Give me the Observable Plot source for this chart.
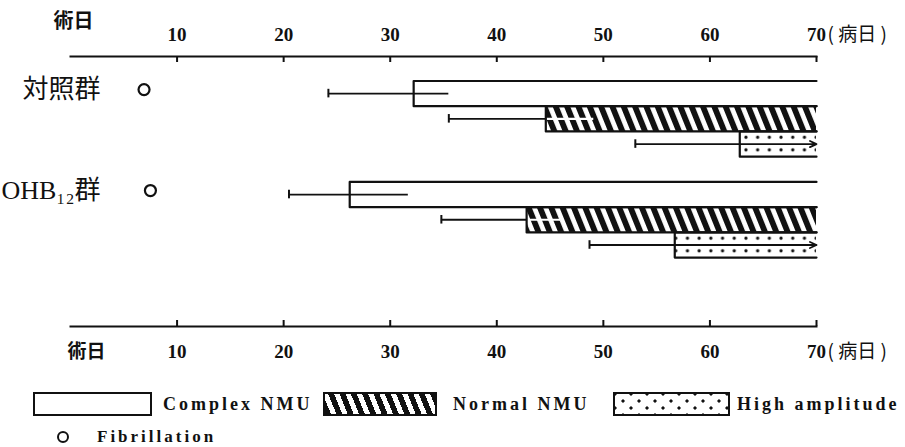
<!DOCTYPE html>
<html><head><meta charset="utf-8">
<script src="https://cdn.jsdelivr.net/npm/d3@7"></script>
<script src="https://cdn.jsdelivr.net/npm/@observablehq/plot@0.6"></script>
<style>
body{margin:0;background:#fff;}
#wrap{position:relative;width:905px;height:447px;overflow:hidden;}
#legend{position:absolute;left:0;top:372px;width:905px;height:75px;font-family:"Liberation Serif",serif;font-weight:bold;font-size:18px;letter-spacing:3px;color:#111;}
.box{position:absolute;top:20px;height:24px;border:2px solid #111;box-sizing:border-box;background:#fff;}
.lbl{position:absolute;top:20px;line-height:24px;white-space:nowrap;}
.circ{position:absolute;width:12px;height:12px;border:2px solid #111;border-radius:50%;box-sizing:border-box;}
</style></head><body>
<div id="wrap"><div id="chart"></div><div id="legend"></div></div>
<script>
// ---- data ----
const groups = ["対照群", "OHB₁₂群"];
const categories = ["Complex NMU", "Normal NMU", "High amplitude"];
const meanDay = [[32.2, 44.6, 62.8], [26.2, 42.8, 56.7]];
const lowDay  = [[24.2, 35.5, 53.0], [20.5, 34.8, 48.7]];
const highDay = [[35.5, 49.1, 70], [31.7, 46.0, 70]];
const fibrillationDay = [6.9, 7.5];
const dayTicks = [10, 20, 30, 40, 50, 60, 70];
const dayDomain = [0, 70];
const observationEnd = 70;
const startLabel = "術日";
const endUnit = "( 病日 )";
const fibrillationLabel = "Fibrillation";

// ---- layout ----
const W = 905, H = 372, MT = 56, MB = 46, ML = 70, MR = 89;
const frameH = H - MT - MB;
const ink = "#111";
const serif = "'Liberation Serif', 'DejaVu Serif', serif";
const cjk = "'Noto Sans CJK JP', sans-serif";

const rowsPerGroup = categories.length + 1;
const bars = groups.flatMap((g, gi) => categories.map((c, ci) => ({
  group: g, category: c, row: gi * rowsPerGroup + ci,
  mean: meanDay[gi][ci], low: lowDay[gi][ci], high: highDay[gi][ci], end: observationEnd
})));
const outline = bars.flatMap(b => [
  {id: b.row, x: b.end, y: b.row - 0.5},
  {id: b.row, x: b.mean, y: b.row - 0.5},
  {id: b.row, x: b.mean, y: b.row + 0.5},
  {id: b.row, x: b.end, y: b.row + 0.5}
]);
const fillFor = {"Complex NMU": "white", "Normal NMU": "url(#hatch)", "High amplitude": "url(#dots)"};
const fib = groups.map((g, gi) => ({group: g, row: gi * rowsPerGroup, day: fibrillationDay[gi]}));

const chart = Plot.plot({
  width: W, height: H,
  marginLeft: ML, marginRight: MR, marginTop: MT, marginBottom: MB,
  x: {domain: dayDomain, axis: null},
  y: {domain: [-1.47, 9.23], reverse: true, axis: null},
  style: {fontFamily: serif, color: ink, background: "white", overflow: "visible"},
  marks: [
    // axis lines
    Plot.frame({anchor: "top", stroke: ink, strokeWidth: 2}),
    Plot.frame({anchor: "bottom", stroke: ink, strokeWidth: 2}),
    // ticks: top points down, bottom points up
    Plot.tickX(dayTicks, {x: d => d, stroke: ink, strokeWidth: 2, insetBottom: frameH - 6}),
    Plot.tickX(dayTicks, {x: d => d, stroke: ink, strokeWidth: 2, insetTop: frameH - 6}),
    // tick labels
    Plot.text(dayTicks, {x: d => d, frameAnchor: "top", lineAnchor: "middle", dy: -22, text: d => String(d), fontSize: 19, fontWeight: "bold", fill: ink}),
    Plot.text(dayTicks, {x: d => d, frameAnchor: "bottom", lineAnchor: "middle", dy: 25, text: d => String(d), fontSize: 19, fontWeight: "bold", fill: ink}),
    Plot.text([endUnit], {frameAnchor: "top-right", lineAnchor: "middle", dx: 11, dy: -22, textAnchor: "start", text: d => d, fontSize: 19, fontFamily: cjk, fill: ink}),
    Plot.text([endUnit], {frameAnchor: "bottom-right", lineAnchor: "middle", dx: 11, dy: 25, textAnchor: "start", text: d => d, fontSize: 19, fontFamily: cjk, fill: ink}),
    Plot.text([startLabel], {frameAnchor: "top-left", lineAnchor: "middle", textAnchor: "start", dx: -17, dy: -35, text: d => d, fontSize: 20, fontWeight: "bold", fontFamily: cjk, fill: ink}),
    Plot.text([startLabel], {frameAnchor: "bottom-left", lineAnchor: "middle", textAnchor: "start", dx: -3, dy: 25, text: d => d, fontSize: 19, fontWeight: "bold", fontFamily: cjk, fill: ink}),
    // bars
    Plot.rect(bars, {x1: "mean", x2: "end", y1: d => d.row - 0.5, y2: d => d.row + 0.5, fill: d => fillFor[d.category]}),
    // whiskers
    Plot.ruleY(bars, {y: "row", x1: "low", x2: "mean", stroke: ink, strokeWidth: 1.8}),
    Plot.ruleY(bars.filter(d => d.category !== "High amplitude"), {y: "row", x1: "mean", x2: "high",
      stroke: d => d.category === "Normal NMU" ? "white" : ink, strokeWidth: d => d.category === "Normal NMU" ? 2.2 : 1.8}),
    Plot.arrow(bars.filter(d => d.category === "High amplitude"), {x1: "mean", x2: "high", y1: "row", y2: "row", stroke: ink, strokeWidth: 1.8, headLength: 6, headAngle: 50}),
    Plot.ruleX(bars, {x: "low", y1: d => d.row - 0.17, y2: d => d.row + 0.17, stroke: ink, strokeWidth: 2}),
    // bar outlines (open at the right end)
    Plot.line(outline, {x: "x", y: "y", z: "id", stroke: ink, strokeWidth: 2.2, curve: "linear"}),
    // group labels and fibrillation
    Plot.text(groups, {y: (d, i) => i * rowsPerGroup, frameAnchor: "left", dx: 30, dy: -4, textAnchor: "end", text: d => d,
      fontSize: 26, fontFamily: `'Liberation Serif', 'DejaVu Serif', 'Noto Sans CJK JP', serif`, fill: ink}),
    Plot.dot(fib, {x: "day", y: "row", dy: -4, r: 5.5, stroke: ink, strokeWidth: 2.2, fill: "white"})
  ]
});

// patterns
const ys = chart.scale("y");
const pitch = Math.abs(ys.apply(1) - ys.apply(0));
const NS = "http://www.w3.org/2000/svg";
function el(tag, attrs, parent) {
  const e = document.createElementNS(NS, tag);
  for (const k in attrs) e.setAttribute(k, attrs[k]);
  if (parent) parent.appendChild(e);
  return e;
}
const defs = el("defs", {});
const hatch = el("pattern", {id: "hatch", patternUnits: "userSpaceOnUse", width: 10.5, height: 10, patternTransform: "rotate(-22)"}, defs);
el("rect", {width: 10.5, height: 10, fill: "white"}, hatch);
el("rect", {width: 5.8, height: 10, fill: ink}, hatch);
const dots = el("pattern", {id: "dots", patternUnits: "userSpaceOnUse", x: 3, y: ys.apply(2) - pitch / 2, width: 11.7, height: pitch / 2}, defs);
el("rect", {width: 11.7, height: pitch / 2, fill: "white"}, dots);
el("circle", {cx: 5.85, cy: pitch / 4, r: 1.6, fill: ink}, dots);
chart.insertBefore(defs, chart.firstChild);
document.getElementById("chart").appendChild(chart);

// legend (HTML)
const legend = document.getElementById("legend");
const legendBoxes = [
  {left: 33, width: 119, bg: "#fff", text: categories[0], tx: 163},
  {left: 323, width: 114, bg: "repeating-linear-gradient(68deg, #111 0 5.5px, #fff 5.5px 10.5px)", text: categories[1], tx: 453},
  {left: 613, width: 117, bg: "radial-gradient(circle, #111 1.3px, transparent 1.9px) 0 0/16px 14px, radial-gradient(circle, #111 1.3px, transparent 1.9px) 8px 7px/16px 14px, #fff", text: categories[2], tx: 737}
];
for (const b of legendBoxes) {
  const d = document.createElement("div");
  d.className = "box";
  d.style.left = b.left + "px"; d.style.width = b.width + "px"; d.style.background = b.bg;
  legend.appendChild(d);
  const t = document.createElement("div");
  t.className = "lbl"; t.style.left = b.tx + "px"; t.textContent = b.text;
  legend.appendChild(t);
}
const c = document.createElement("div");
c.className = "circ"; c.style.left = "57px"; c.style.top = "59px";
legend.appendChild(c);
const ft = document.createElement("div");
ft.className = "lbl"; ft.style.left = "97px"; ft.style.top = "55px"; ft.style.lineHeight = "20px"; ft.style.fontSize = "17px"; ft.textContent = fibrillationLabel;
legend.appendChild(ft);
</script>
</body></html>
